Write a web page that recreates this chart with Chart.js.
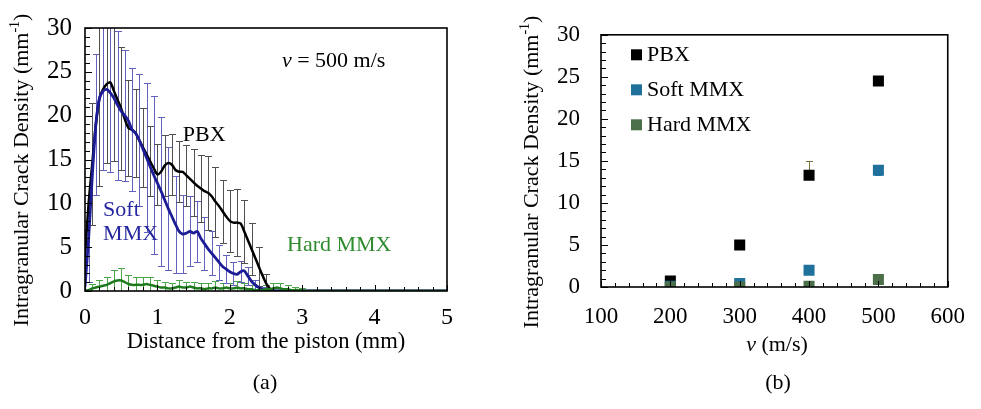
<!DOCTYPE html>
<html><head><meta charset="utf-8">
<script src="https://cdn.jsdelivr.net/npm/chart.js@4.4.1/dist/chart.umd.min.js"></script>
<style>
html,body{margin:0;padding:0;background:#fff;width:981px;height:409px;overflow:hidden;}
#ca{position:absolute;left:0;top:0;}
#cb{position:absolute;left:490px;top:0;}
</style></head><body>
<canvas id="ca" width="490" height="409"></canvas>
<canvas id="cb" width="491" height="409"></canvas>
<script>
// ---------- Panel (a) data: crack density vs distance from piston (v = 500 m/s) ----------
const distance = [
 0,0.05,0.1,0.15,0.2,0.25,0.3,0.35,0.4,0.45,
 0.5,0.55,0.6,0.65,0.7,0.75,0.8,0.85,0.9,0.95,
 1,1.05,1.1,1.15,1.2,1.25,1.3,1.35,1.4,1.45,
 1.5,1.55,1.6,1.65,1.7,1.75,1.8,1.85,1.9,1.95,
 2,2.05,2.1,2.15,2.2,2.25,2.3,2.35,2.4,2.45,
 2.5,2.55,2.6,2.65,2.7,2.75,2.8,2.85,2.9,2.95,
 3,3.05,3.1,5];
const pbxA = [
 4,10,14.5,19,22,23,23.6,23.8,22.8,21.8,
 20.8,19.6,18.6,18.4,18.0,17.2,16.4,15.6,14.8,14.0,
 13.3,13.6,14.3,14.6,14.4,13.8,13.6,13.6,13.2,12.8,
 12.4,12.0,11.7,11.4,11.2,10.8,10.2,9.7,9.1,8.5,
 8.0,7.8,7.8,7.7,6.8,5.8,4.8,3.8,2.8,1.8,
 0.9,0.3,0,0,0,0,0,0,0,0,
 0,0,0,0];
// error bars are read at every 0.1 mm (null = no bar drawn)
const pbxErrA = [
 3,null,7,null,10,null,9,null,8,null,
 7,null,5.5,null,5,null,4.5,null,4,null,
 3.5,null,3.5,null,3.5,null,3.5,null,3.5,null,
 3.8,null,3.8,null,4.2,null,4,null,3.6,null,
 3.5,null,3.8,null,3.6,null,3.0,null,2.2,null,
 1.0,null,0.3,null,0,null,0,null,0,null,
 0,null,0,0];
const softA = [
 0.5,6,13,19,22,22.8,23.0,22.6,22.0,21.2,
 20.5,20.0,19.4,18.4,18.0,17.2,16.2,15.2,14.2,13.2,
 12.3,11.4,10.4,9.4,8.5,7.6,6.8,6.5,6.6,6.8,
 6.6,6.8,6.0,5.4,4.8,4.3,3.8,3.3,2.8,2.5,
 2.2,2.0,1.9,2.2,2.3,1.7,1.1,0.7,0.4,0.2,
 0.1,0,0,0,0,0,0,0,0,0,
 0,0,0,0];
const softErrA = [
 null,5,null,8,null,9,null,9,null,8.5,
 null,7.5,null,7,null,7.5,null,8.5,null,9,
 null,8.5,null,7,null,5.5,null,4.5,null,4,
 null,3.5,null,3,null,2.5,null,2,null,1.6,
 null,1.3,null,1.2,null,1.0,null,0.6,null,0.3,
 null,0,null,0,null,0,null,0,null,0,
 null,0,null,0];
const hardA = [
 0,0.1,0.3,0.4,0.5,0.6,0.7,0.9,1.1,1.2,
 1.2,1.0,0.8,0.7,0.7,0.7,0.7,0.8,0.7,0.6,
 0.5,0.4,0.4,0.3,0.3,0.4,0.5,0.4,0.4,0.5,
 0.4,0.3,0.3,0.2,0.3,0.3,0.4,0.3,0.3,0.4,
 0.3,0.3,0.4,0.3,0.3,0.2,0.2,0.1,0.1,0.1,
 0.2,0.2,0.3,0.4,0.3,0.2,0.2,0.1,0.1,0.1,
 0.05,0,0,0];
const hardErrA = [
 0.2,null,0.5,null,0.7,null,0.9,null,1.3,null,
 1.4,null,1.0,null,0.9,null,0.9,null,0.9,null,
 0.7,null,0.6,null,0.6,null,0.8,null,0.6,null,
 0.6,null,0.6,null,0.6,null,0.7,null,0.6,null,
 0.6,null,0.7,null,0.6,null,0.5,null,0.4,null,
 0.5,null,0.6,null,0.6,null,0.5,null,0.4,null,
 0.3,null,0,0];
const xTicksA = [0,1,2,3,4,5];
const yTicks = [0,5,10,15,20,25,30];

// ---------- Panel (b) data: crack density vs impact velocity ----------
const velocity = [200,300,400,500];
const pbxB = [0.7,5.0,13.3,24.5];
const pbxErrUpB = [0,0,1.7,0.4];
const pbxErrDnB = [0,0,0,0];
const softB = [0.1,0.4,2.0,13.9];
const softErrUpB = [0,0,0,0.6];
const softErrDnB = [0,0,0,0.6];
const hardB = [0,0,0.1,0.9];
const xTicksB = [100,200,300,400,500,600];

const FONT = '"Liberation Serif", "Times New Roman", serif';
const FS = 22;
const pts = (xs, ys) => xs.map((x, i) => ({x, y: ys[i]}));

// ---------- plugins ----------
const errorBars = {
  id: 'errorBars',
  beforeDatasetsDraw(chart) {
    const {ctx, chartArea: a, scales: {x, y}} = chart;
    ctx.save();
    ctx.beginPath(); ctx.rect(a.left, a.top, a.right - a.left, a.bottom - a.top); ctx.clip();
    chart.data.datasets.forEach(ds => {
      if (!ds.errUp) return;
      ctx.strokeStyle = ds.errColor; ctx.lineWidth = 1;
      const c = ds.capHalf || 3.5;
      ds.data.forEach((p, i) => {
        const eu = ds.errUp[i] || 0, ed = ds.errDn[i] || 0;
        if (!eu && !ed) return;
        const px = Math.round(x.getPixelForValue(p.x)) + 0.5;
        const yt = Math.round(y.getPixelForValue(p.y + eu)) + 0.5;
        const yb = Math.round(y.getPixelForValue(p.y - ed)) + 0.5;
        ctx.beginPath();
        ctx.moveTo(px, yt); ctx.lineTo(px, yb);
        if (eu) { ctx.moveTo(px - c, yt); ctx.lineTo(px + c, yt); }
        if (ed) { ctx.moveTo(px - c, yb); ctx.lineTo(px + c, yb); }
        ctx.stroke();
      });
    });
    ctx.restore();
  }
};

function drawParts(ctx, parts, cx, cy, fs) {
  let w = 0;
  parts.forEach(p => { ctx.font = `${p.style || ''} ${p.size || fs}px ${FONT}`; w += ctx.measureText(p.t).width; });
  let x = cx - w / 2;
  parts.forEach(p => {
    ctx.font = `${p.style || ''} ${p.size || fs}px ${FONT}`;
    ctx.fillText(p.t, x, cy + (p.dy || 0));
    x += ctx.measureText(p.t).width;
  });
}

function framePlugin(cfg) {
  return {
    id: 'frame',
    afterDraw(chart) {
      const {ctx, chartArea: a, scales: {x, y}} = chart;
      ctx.save();
      ctx.strokeStyle = '#000';
      ctx.lineWidth = 1;
      ctx.beginPath();
      const ny = Math.round((y.max - y.min) / cfg.yStep);
      for (let k = 0; k <= ny; k++) {
        const v = y.min + k * cfg.yStep;
        const py = Math.round(y.getPixelForValue(v)) + 0.5;
        const len = (k % cfg.yMajorEvery === 0) ? 7 : 5;
        ctx.moveTo(a.left, py); ctx.lineTo(a.left + len, py);
      }
      const nx = Math.round((x.max - x.min) / cfg.xStep);
      for (let k = 0; k <= nx; k++) {
        const v = x.min + k * cfg.xStep;
        const px = Math.round(x.getPixelForValue(v)) + 0.5;
        const len = (k % cfg.xMajorEvery === 0) ? 6 : 4;
        ctx.moveTo(px, a.bottom); ctx.lineTo(px, a.bottom - len);
      }
      ctx.stroke();
      ctx.lineWidth = 1.6;
      ctx.strokeRect(a.left, a.top, a.right - a.left, a.bottom - a.top);
      ctx.fillStyle = '#000';
      ctx.textBaseline = 'middle';
      drawParts(ctx, cfg.xTitle, cfg.xTitlePos[0], cfg.xTitlePos[1], cfg.titleSize);
      ctx.save();
      ctx.translate(cfg.yTitlePos[0], cfg.yTitlePos[1]);
      ctx.rotate(-Math.PI / 2);
      drawParts(ctx, cfg.yTitle, 0, 0, FS);
      ctx.restore();
      drawParts(ctx, [{t: cfg.caption}], cfg.captionPos[0], cfg.captionPos[1], FS);
      (cfg.notes || []).forEach(n => {
        ctx.fillStyle = n.color;
        ctx.textBaseline = 'middle';
        let px = x.getPixelForValue(n.x);
        const py = y.getPixelForValue(n.y);
        n.parts.forEach(p => {
          ctx.font = `${p.style || ''} ${FS}px ${FONT}`;
          ctx.fillText(p.t, px, py);
          px += ctx.measureText(p.t).width;
        });
      });
      ctx.restore();
    }
  };
}

const legendB = {
  id: 'legendB',
  afterDraw(chart) {
    const {ctx, chartArea: a} = chart;
    ctx.save();
    ctx.font = `${FS}px ${FONT}`;
    ctx.textBaseline = 'middle';
    chart.data.datasets.forEach((ds, i) => {
      const cy = a.top + 20 + i * 35;
      ctx.fillStyle = ds.backgroundColor;
      ctx.fillRect(a.left + 30, cy - 5.5, 11, 11);
      ctx.fillStyle = '#000';
      ctx.fillText(ds.label, a.left + 46, cy);
    });
    ctx.restore();
  }
};

const yTitle = [{t: 'Intragranular Crack Density (mm'}, {t: '-1', size: 14, dy: -7}, {t: ')'}];

// ---------- Chart (a) ----------
new Chart(document.getElementById('ca'), {
  type: 'line',
  data: {
    datasets: [
      {label: 'Hard MMX', data: pts(distance, hardA), errUp: hardErrA, errDn: hardErrA,
       borderColor: '#1c7a1c', errColor: '#4aa44a', borderWidth: 2.5, pointRadius: 0, tension: 0.25, order: 1},
      {label: 'Soft MMX', data: pts(distance, softA), errUp: softErrA, errDn: softErrA,
       borderColor: '#1c1c96', errColor: '#6262bc', borderWidth: 2.8, pointRadius: 0, tension: 0.25, order: 2},
      {label: 'PBX', data: pts(distance, pbxA), errUp: pbxErrA, errDn: pbxErrA,
       borderColor: '#000000', errColor: '#505050', borderWidth: 2.5, pointRadius: 0, tension: 0.25, order: 3}
    ]
  },
  options: {
    responsive: false, animation: false, events: [],
    layout: {padding: {left: 0, right: 43, top: 24, bottom: 78}},
    plugins: {legend: {display: false}, tooltip: {enabled: false}},
    scales: {
      x: {type: 'linear', min: 0, max: 5,
          afterBuildTicks: s => { s.ticks = xTicksA.map(v => ({value: v})); },
          ticks: {padding: 12, font: {family: FONT, size: 24}, color: '#000'},
          grid: {display: false, drawTicks: false}, border: {display: false},
          afterFit: s => { s.height = 40; }},
      y: {min: 0, max: 30,
          afterBuildTicks: s => { s.ticks = yTicks.map(v => ({value: v})); },
          ticks: {padding: 13, font: {family: FONT, size: 25}, color: '#000'},
          grid: {display: false, drawTicks: false}, border: {display: false},
          afterFit: s => { s.width = 85; }}
    }
  },
  plugins: [errorBars, framePlugin({
    yStep: 1, yMajorEvery: 5, xStep: 0.2, xMajorEvery: 5, titleSize: 22.6,
    xTitle: [{t: 'Distance from the piston (mm)'}], xTitlePos: [266, 342],
    yTitle: yTitle, yTitlePos: [22, 170],
    caption: '(a)', captionPos: [265, 383],
    notes: [
      {x: 2.72, y: 26.2, color: '#000', parts: [{t: 'v', style: 'italic'}, {t: ' = 500 m/s'}]},
      {x: 1.35, y: 17.75, color: '#000', parts: [{t: 'PBX'}]},
      {x: 0.25, y: 9.2, color: '#2626a0', parts: [{t: 'Soft'}]},
      {x: 0.25, y: 6.5, color: '#2626a0', parts: [{t: 'MMX'}]},
      {x: 2.79, y: 5.2, color: '#2e8b2e', parts: [{t: 'Hard MMX'}]}
    ]
  })]
});

// ---------- Chart (b) ----------
new Chart(document.getElementById('cb'), {
  type: 'scatter',
  data: {
    datasets: [
      {label: 'PBX', data: pts(velocity, pbxB), errUp: pbxErrUpB, errDn: pbxErrDnB, errColor: '#77733f',
       backgroundColor: '#000000', pointStyle: 'rect', pointRadius: 7.8, borderWidth: 0, order: 3},
      {label: 'Soft MMX', data: pts(velocity, softB), errUp: softErrUpB, errDn: softErrDnB, errColor: '#2a7aa6',
       backgroundColor: '#20709c', pointStyle: 'rect', pointRadius: 7.8, borderWidth: 0, order: 2},
      {label: 'Hard MMX', data: pts(velocity, hardB),
       backgroundColor: '#4b7049', pointStyle: 'rect', pointRadius: 7.8, borderWidth: 0, order: 1}
    ]
  },
  options: {
    responsive: false, animation: false, events: [],
    layout: {padding: {left: 0, right: 19, top: 28, bottom: 82}},
    plugins: {legend: {display: false}, tooltip: {enabled: false}},
    scales: {
      x: {type: 'linear', min: 100, max: 600,
          afterBuildTicks: s => { s.ticks = xTicksB.map(v => ({value: v})); },
          ticks: {padding: 16, font: {family: FONT, size: 23}, color: '#000'},
          grid: {display: false, drawTicks: false}, border: {display: false},
          afterFit: s => { s.height = 40; }},
      y: {min: 0, max: 30,
          afterBuildTicks: s => { s.ticks = yTicks.map(v => ({value: v})); },
          ticks: {padding: 21, font: {family: FONT, size: 23}, color: '#000'},
          grid: {display: false, drawTicks: false}, border: {display: false},
          afterFit: s => { s.width = 111; }}
    }
  },
  plugins: [errorBars, legendB, framePlugin({
    yStep: 1, yMajorEvery: 5, xStep: 20, xMajorEvery: 5, titleSize: 22,
    xTitle: [{t: 'v', style: 'italic'}, {t: ' (m/s)'}], xTitlePos: [287, 345],
    yTitle: yTitle, yTitlePos: [42, 172],
    caption: '(b)', captionPos: [288, 383]
  })]
});
</script>
</body></html>
